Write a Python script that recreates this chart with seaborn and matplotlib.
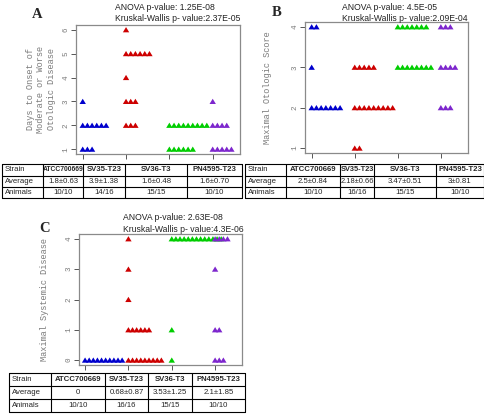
import numpy as np
import pandas as pd
import matplotlib
matplotlib.use("Agg")
import matplotlib.pyplot as plt
from matplotlib.path import Path
import seaborn as sns

sns.set_style("white")

strains = ["ATCC700669", "SV35-T23", "SV36-T3", "PN4595-T23"]
palette = ["#0000CD", "#CD0000", "#00CD00", "#7D26CD"]

# Panel A: days to onset of moderate or worse otologic disease
a_atcc = [1, 1, 1, 2, 2, 2, 2, 2, 2, 3]
a_sv35 = [2, 2, 2, 3, 3, 3, 4, 5, 5, 5, 5, 5, 5, 6]
a_sv36 = [1, 1, 1, 1, 1, 1, 2, 2, 2, 2, 2, 2, 2, 2, 2]
a_pn = [1, 1, 1, 1, 1, 2, 2, 2, 2, 3]
a_yticks = [1, 2, 3, 4, 5, 6]
a_avg = ["1.8±0.63", "3.9±1.38", "1.6±0.48", "1.6±0.70"]
a_animals = ["10/10", "14/16", "15/15", "10/10"]
a_title = ["ANOVA p-value: 1.25E-08", "Kruskal-Wallis p- value:2.37E-05"]

# Panel B: maximal otologic score
b_atcc = [2, 2, 2, 2, 2, 2, 2, 3, 4, 4]
b_sv35 = [1, 1, 2, 2, 2, 2, 2, 2, 2, 2, 2, 3, 3, 3, 3, 3]
b_sv36 = [3, 3, 3, 3, 3, 3, 3, 3, 4, 4, 4, 4, 4, 4, 4]
b_pn = [2, 2, 2, 3, 3, 3, 3, 4, 4, 4]
b_yticks = [1, 2, 3, 4]
b_avg = ["2.5±0.84", "2.18±0.66", "3.47±0.51", "3±0.81"]
b_animals = ["10/10", "16/16", "15/15", "10/10"]
b_title = ["ANOVA p-value: 4.5E-05", "Kruskal-Wallis p- value:2.09E-04"]

# Panel C: maximal systemic disease
c_atcc = [0, 0, 0, 0, 0, 0, 0, 0, 0, 0]
c_sv35 = [0, 0, 0, 0, 0, 0, 0, 0, 0, 1, 1, 1, 1, 1, 1, 2, 3, 4]
c_sv36 = [0, 1, 4, 4, 4, 4, 4, 4, 4, 4, 4, 4, 4, 4, 4]
c_pn = [0, 0, 0, 1, 1, 3, 4, 4, 4, 4]
c_yticks = [0, 1, 2, 3, 4]
c_avg = ["0", "0.68±0.87", "3.53±1.25", "2.1±1.85"]
c_animals = ["10/10", "16/16", "15/15", "10/10"]
c_title = ["ANOVA p-value: 2.63E-08", "Kruskal-Wallis p- value:4.3E-06"]

W, H = 485, 417
fig = plt.figure(figsize=(W / 100, H / 100), dpi=100)
GRAY = "#7a7a7a"
MONO = "Liberation Mono"
SANS = "Liberation Sans"
TRI = Path([(-1, -0.8), (1, -0.8), (0, 0.85), (-1, -0.8)],
           [Path.MOVETO, Path.LINETO, Path.LINETO, Path.CLOSEPOLY])


def stacked_frame(groups, step):
    rows = []
    for i, (name, vals) in enumerate(zip(strains, groups)):
        seen = {}
        for v in vals:
            k = seen.get(v, 0)
            seen[v] = k + 1
            rows.append({"strain": name, "pos": i + 1 + k * step, "score": v})
    return pd.DataFrame(rows)


def add_ax(left, top, right, bottom):
    return fig.add_axes([left / W, 1 - bottom / H, (right - left) / W, (bottom - top) / H])


def panel(box, groups, step, xlim, ylim, yticks, ylabel, lpad, letter, lpos, title, tpos):
    ax = add_ax(*box)
    df = stacked_frame(groups, step)
    sns.scatterplot(data=df, x="pos", y="score", hue="strain", hue_order=strains,
                    palette=palette, marker=TRI, s=21, linewidth=0, legend=False,
                    ax=ax, zorder=3)
    ax.set_xlim(*xlim)
    ax.set_ylim(*ylim)
    ax.set_xticks([1, 2, 3, 4])
    ax.set_xticklabels([])
    ax.set_yticks(yticks)
    ax.set_yticklabels([str(t) for t in yticks], rotation=90, va="center",
                       family=MONO, fontsize=5.5, color=GRAY)
    ax.tick_params(axis="both", length=3.5, width=0.7, color="#555555", pad=1.2,
                   bottom=True, left=True)
    for s in ax.spines.values():
        s.set_color("#8a8a8a")
        s.set_linewidth(0.9)
    ax.set_xlabel("")
    ax.set_ylabel(ylabel, family=MONO, fontsize=6.2, color=GRAY, labelpad=lpad,
                  linespacing=1.15)
    fig.text(lpos[0] / W, 1 - lpos[1] / H, letter, family="Liberation Serif",
             fontweight="bold", fontsize=10.5, ha="center", va="center")
    fig.text(tpos[0] / W, 1 - tpos[1] / H, title[0], family=SANS, fontsize=6.2,
             ha="left", va="center", color="#222222")
    fig.text(tpos[0] / W, 1 - (tpos[1] + 11.5) / H, title[1], family=SANS, fontsize=6.2,
             ha="left", va="center", color="#222222")
    return ax


panel((76, 25, 240, 154), [a_atcc, a_sv35, a_sv36, a_pn], 0.108, (0.845, 4.63), (0.8, 6.2),
      a_yticks, "Days to Onset of\nModerate or Worse\nOtologic Disease", 5, "A", (37, 15),
      a_title, (115, 7))
panel((305, 22, 468, 153), [b_atcc, b_sv35, b_sv36, b_pn], 0.11, (0.845, 4.63), (0.88, 4.12),
      b_yticks, "Maximal Otologic Score", 14, "B", (277, 13), b_title, (342, 7))
panel((79, 234, 242, 365), [c_atcc, c_sv35, c_sv36, c_pn], 0.095, (0.86, 4.62), (-0.16, 4.16),
      c_yticks, "Maximal Systemic Disease", 12, "C", (45, 228), c_title, (123, 218))

# tables
ov = fig.add_axes([0, 0, 1, 1])
ov.set_xlim(0, W)
ov.set_ylim(H, 0)
ov.axis("off")


def fit_text(x, y, s, width, size, **kw):
    t = ov.text(x, y, s, family=SANS, fontsize=size, va="center", ha="center", **kw)
    fig.canvas.draw()
    bb = t.get_window_extent()
    if bb.width > width:
        t.set_fontsize(max(size * width / bb.width, 4.9))
    return t


def table(cols, rows, avg, animals):
    x0, x1 = cols[0], cols[-1]
    for y in rows:
        ov.plot([x0, x1], [y, y], color="black", lw=0.8)
    for x in cols:
        ov.plot([x, x], [rows[0], rows[-1]], color="black", lw=0.8)
    labels = ["Strain", "Average", "Animals"]
    for r in range(3):
        yc = (rows[r] + rows[r + 1]) / 2
        ov.text(cols[0] + 2.5, yc, labels[r], family=SANS, fontsize=5.6, va="center", ha="left")
    for c in range(4):
        xc = (cols[c + 1] + cols[c + 2]) / 2
        w = cols[c + 2] - cols[c + 1] - 1
        fit_text(xc, (rows[0] + rows[1]) / 2, strains[c], w, 5.6, fontweight="bold")
        fit_text(xc, (rows[1] + rows[2]) / 2, avg[c], w, 5.6)
        fit_text(xc, (rows[2] + rows[3]) / 2, animals[c], w, 5.6)


table([2, 43, 83, 125, 187, 242], [163.5, 175.5, 187, 197.5], a_avg, a_animals)
table([245, 286, 340, 374, 436, 484], [163.5, 175.5, 187, 197.5], b_avg, b_animals)
table([9, 51, 105, 148, 192, 245], [373, 386, 399, 412], c_avg, c_animals)

fig.savefig("out.png", dpi=100)
